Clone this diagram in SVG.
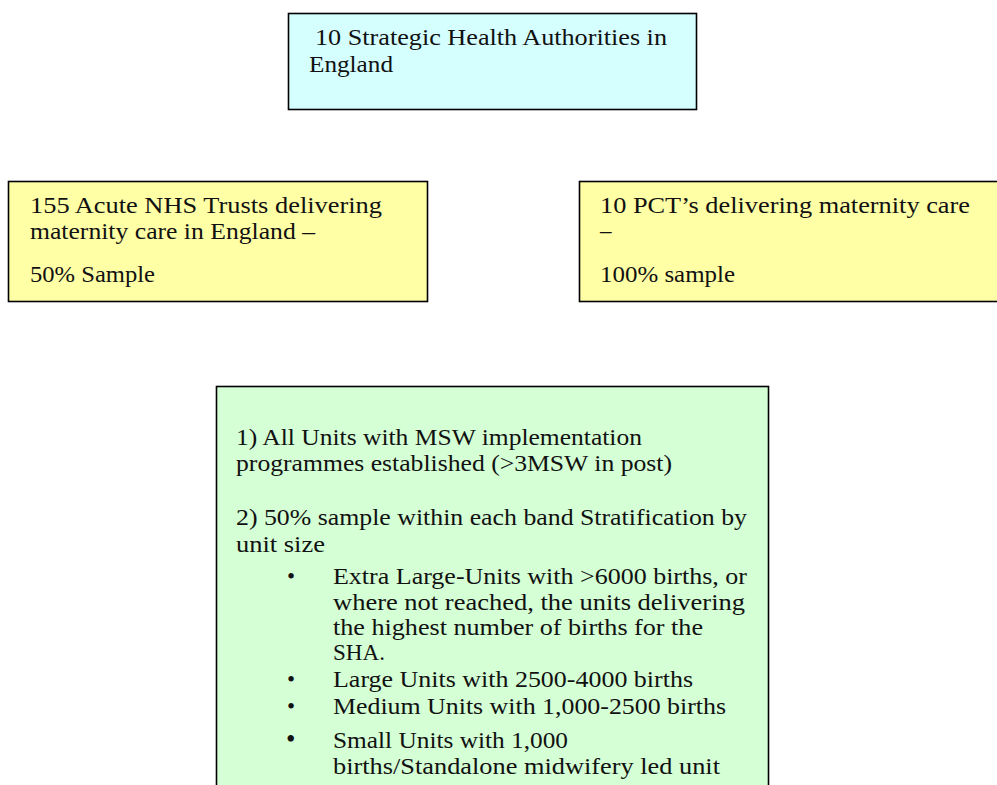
<svg xmlns="http://www.w3.org/2000/svg" width="997" height="785" viewBox="0 0 997 785">
<style>
.box{stroke:#000;stroke-width:1.6}
.t{font-family:"Liberation Serif","Times New Roman",serif;font-size:23px;fill:#111}
</style>
<rect width="997" height="785" fill="#fff"/>
<g id="connectors"/>
<g id="sha">
<rect class="box" x="288.5" y="13.5" width="408" height="96" fill="#d5ffff"/>
<text class="t" x="315" y="45" textLength="352" lengthAdjust="spacingAndGlyphs">10 Strategic Health Authorities in</text>
<text class="t" x="309" y="72" textLength="84" lengthAdjust="spacingAndGlyphs">England</text>
</g>
<g id="acute-trusts">
<rect class="box" x="8.5" y="181.5" width="419" height="120" fill="#ffffa6"/>
<text class="t" x="30" y="213" textLength="352" lengthAdjust="spacingAndGlyphs">155 Acute NHS Trusts delivering</text>
<text class="t" x="30" y="239" textLength="285" lengthAdjust="spacingAndGlyphs">maternity care in England –</text>
<text class="t" x="30" y="282" textLength="125" lengthAdjust="spacingAndGlyphs">50% Sample</text>
</g>
<g id="pcts">
<rect class="box" x="579.5" y="181.5" width="430" height="120" fill="#ffffa6"/>
<text class="t" x="600" y="213" textLength="370" lengthAdjust="spacingAndGlyphs">10 PCT’s delivering maternity care</text>
<text class="t" x="600" y="238">–</text>
<text class="t" x="600" y="282" textLength="135" lengthAdjust="spacingAndGlyphs">100% sample</text>
</g>
<g id="units">
<rect class="box" x="216.5" y="386.5" width="552" height="410" fill="#d5ffd5"/>
<text class="t" x="236" y="445" textLength="406" lengthAdjust="spacingAndGlyphs">1) All Units with MSW implementation</text>
<text class="t" x="236" y="471" textLength="436" lengthAdjust="spacingAndGlyphs">programmes established (&gt;3MSW in post)</text>
<text class="t" x="236" y="525" textLength="511" lengthAdjust="spacingAndGlyphs">2) 50% sample within each band Stratification by</text>
<text class="t" x="236" y="552" textLength="89" lengthAdjust="spacingAndGlyphs">unit size</text>
<text class="t" x="287" y="584">•</text>
<text class="t" x="333" y="584" textLength="414" lengthAdjust="spacingAndGlyphs">Extra Large-Units with &gt;6000 births, or</text>
<text class="t" x="333" y="610" textLength="412" lengthAdjust="spacingAndGlyphs">where not reached, the units delivering</text>
<text class="t" x="333" y="635" textLength="370" lengthAdjust="spacingAndGlyphs">the highest number of births for the</text>
<text class="t" x="333" y="660" textLength="52" lengthAdjust="spacingAndGlyphs">SHA.</text>
<text class="t" x="287" y="687">•</text>
<text class="t" x="333" y="687" textLength="360" lengthAdjust="spacingAndGlyphs">Large Units with 2500-4000 births</text>
<text class="t" x="287" y="714">•</text>
<text class="t" x="333" y="714" textLength="393" lengthAdjust="spacingAndGlyphs">Medium Units with 1,000-2500 births</text>
<text class="t" x="286" y="748" style="font-size:27px">•</text>
<text class="t" x="333" y="748" textLength="235" lengthAdjust="spacingAndGlyphs">Small Units with 1,000</text>
<text class="t" x="333" y="774" textLength="387" lengthAdjust="spacingAndGlyphs">births/Standalone midwifery led unit</text>
</g>
</svg>
